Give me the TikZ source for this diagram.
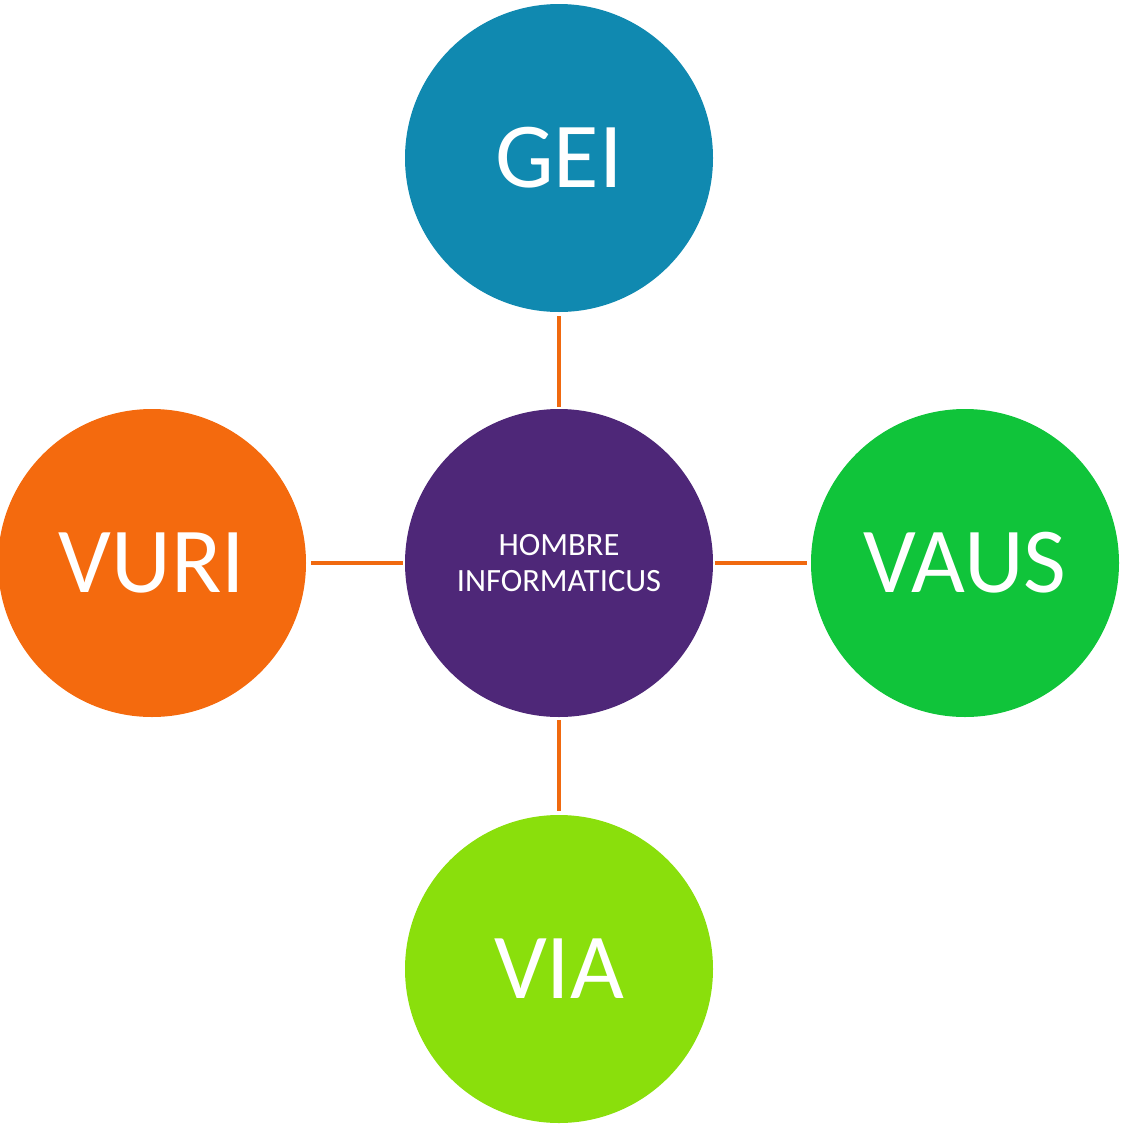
\documentclass[tikz,border=0pt]{standalone}
\usepackage{fontspec}
\setmainfont{Carlito}
\definecolor{cgei}{HTML}{1089B0}
\definecolor{ccen}{HTML}{4E2778}
\definecolor{cvuri}{HTML}{F46A0E}
\definecolor{cvaus}{HTML}{10C43A}
\definecolor{cvia}{HTML}{8ADF0C}
\definecolor{cline}{HTML}{F0690F}
\begin{document}
\begin{tikzpicture}[x=1pt,y=-1pt,
  bubble/.style={circle,minimum size=308pt,inner sep=0pt,text=white,font=\fontsize{93}{100}\selectfont},
  link/.style={draw=cline,line width=4pt}]
\useasboundingbox (0,0) rectangle (1123,1127);
\node[bubble,fill=cgei] (gei) at (559,158) {GEI};
\node[bubble,fill=ccen,align=center,font=\fontsize{32.5}{36}\selectfont] (cen) at (559,563) {HOMBRE\\INFORMATICUS};
\node[bubble,fill=cvuri] (vuri) at (152,563) {VURI};
\node[bubble,fill=cvaus] (vaus) at (965,563) {VAUS};
\node[bubble,fill=cvia] (via) at (559,969) {VIA};
\draw[link] ([yshift=-4pt]gei.south) -- ([yshift=2pt]cen.north);
\draw[link] ([yshift=-3pt]cen.south) -- ([yshift=4pt]via.north);
\draw[link] ([xshift=5pt]vuri.east) -- ([xshift=-2pt]cen.west);
\draw[link] ([xshift=2pt]cen.east) -- ([xshift=-4pt]vaus.west);
\end{tikzpicture}
\end{document}
